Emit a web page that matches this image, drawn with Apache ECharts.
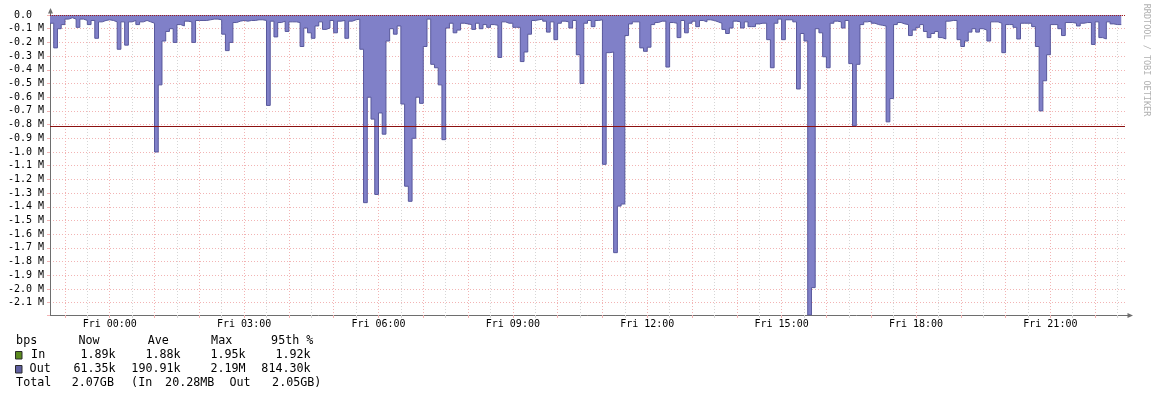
<!DOCTYPE html>
<html><head><meta charset="utf-8">
<script src="https://cdn.jsdelivr.net/npm/echarts@6/dist/echarts.min.js"></script>
<style>html,body{margin:0;padding:0;background:#fff}#c{width:1156px;height:397px}</style>
</head><body><div id="c"></div>
<script>
// time of first sample, minutes relative to Fri 00:00 (Thu 22:40)
const startMinute = -80;
const stepMinutes = 5;
// Out traffic, magnitude in kbit/s, one value per 5 minutes (drawn downward)
const outKbps = [
  60,240,100,70,30,20,30,90,30,40,70,40,
  170,50,40,35,40,50,250,50,220,50,40,70,
  50,40,50,60,1000,510,190,120,100,200,70,80,
  45,50,200,40,40,40,35,30,30,35,140,260,
  200,55,45,40,45,40,40,35,35,40,660,45,
  160,55,45,120,50,50,55,230,95,130,170,80,
  50,105,95,40,130,45,40,170,45,35,30,250,
  1370,600,760,1310,715,870,190,100,140,80,650,1250,
  1360,900,600,645,230,30,360,385,510,910,95,60,
  130,110,60,65,70,105,60,100,70,90,70,75,
  310,50,60,60,90,90,340,270,140,40,35,30,
  45,125,50,180,60,45,50,95,40,290,500,60,
  40,85,40,35,1090,275,270,1735,1395,1380,150,65,
  50,50,240,265,235,70,55,45,45,380,55,60,
  165,40,130,60,45,85,40,50,35,40,50,60,
  105,135,95,45,50,95,50,85,85,65,60,60,
  180,385,60,30,180,35,35,50,540,135,190,2190,
  1990,100,130,305,385,60,45,50,95,40,355,810,
  360,70,50,45,60,70,75,80,780,610,70,55,
  65,70,150,110,90,70,120,165,135,120,165,175,
  45,40,40,180,230,190,125,100,125,100,110,190,
  50,50,60,275,70,70,90,175,60,60,60,85,
  230,700,480,290,70,70,100,150,55,55,60,80,
  60,55,55,215,50,165,175,50,65,70,70,null
];
const pct95Kbps = 814.30;
// axis ticks (minutes from Fri 00:00)
const hourTicks = [-60,0,60,120,180,240,300,360,420,480,540,600,660,720,780,840,900,960,1020,1080,1140,1200,1260,1320];
const halfHourTicks = [-30,30,90,150,210,270,330,390,450,510,570,630,690,750,810,870,930,990,1050,1110,1170,1230,1290,1350];
const labelTicks = [0,180,360,540,720,900,1080,1260];
const dayName = 'Fri';
// legend table
const legendHeader = ['bps','Now','Ave','Max','95th %'];
const inStats = ['1.89k','1.88k','1.95k','1.92k'];
const outStats = ['61.35k','190.91k','2.19M','814.30k'];
const totalRow = ['Total','2.07GB','(In','20.28MB','Out','2.05GB)'];
const watermark = 'RRDTOOL / TOBI OETIKER';

const FONT = '"DejaVu Sans Mono", monospace';
const LEG = 11.7;
const pink = '#f2b4b4', grey = '#d6d6d6', axisCol = '#6e6e6e';
const chart = echarts.init(document.getElementById('c'), null, {renderer:'canvas'});

function txt(x, y, text, align, opts) {
  opts = opts || {};
  return {type:'text', x:x, y:y, silent:true, rotation: opts.rotation || 0,
    style:{text:text, font:(opts.size||LEG)+'px '+FONT, fill:opts.fill||'#000',
      align:align, textAlign:align, verticalAlign:'middle', textVerticalAlign:'middle'}};
}
const graphics = [];
const colsL = [16.1, 78.4, 147.7, 211.1, 271.1];
legendHeader.forEach((t,i)=>graphics.push(txt(colsL[i], 341, t, 'left')));
const colsR = [115.6, 180.6, 245.6, 310.6];
graphics.push({type:'rect', shape:{x:15.5,y:351.5,width:6.5,height:7.5}, style:{fill:'#5b8a1e', stroke:'#2a2a2a', lineWidth:1}});
graphics.push(txt(31.1, 355, 'In', 'left'));
inStats.forEach((t,i)=>graphics.push(txt(colsR[i], 355, t, 'right')));
graphics.push({type:'rect', shape:{x:15.5,y:365.5,width:6.5,height:7.5}, style:{fill:'#6060a0', stroke:'#2a2a2a', lineWidth:1}});
graphics.push(txt(29.6, 369, 'Out', 'left'));
outStats.forEach((t,i)=>graphics.push(txt(colsR[i], 369, t, 'right')));
const totL = [16.1, 71.7, 131.1, 165.1, 229.4, 272.1];
totalRow.forEach((t,i)=>graphics.push(txt(totL[i], 382.7, t, 'left')));
graphics.push(txt(1146.7, 60, watermark, 'center', {rotation:-Math.PI/2, size:8.5, fill:'#b0b0b0'}));
// axis arrows
graphics.push({type:'line', shape:{x1:50.5,y1:15,x2:50.5,y2:11}, style:{stroke:axisCol, lineWidth:1}});
graphics.push({type:'polygon', shape:{points:[[48,13.5],[50.5,8],[53,13.5]]}, style:{fill:axisCol}});
graphics.push({type:'line', shape:{x1:1125,y1:315.5,x2:1129,y2:315.5}, style:{stroke:axisCol, lineWidth:1}});
graphics.push({type:'polygon', shape:{points:[[1127.5,313],[1133,315.5],[1127.5,318]]}, style:{fill:axisCol}});

const pad = n => (n<10?'0':'')+n;

chart.setOption({
  animation:false,
  backgroundColor:'#ffffff',
  grid:{left:50, top:15, width:1075, height:300, containLabel:false},
  xAxis:[{
    type:'value', min:startMinute, max:startMinute+288*stepMinutes,
    axisLine:{show:true, onZero:false, lineStyle:{color:axisCol, width:1}},
    axisTick:{show:true, length:3, customValues:hourTicks, lineStyle:{color:pink}},
    axisLabel:{show:true, customValues:labelTicks, margin:4, color:'#000', fontFamily:FONT, fontSize:10,
      formatter:v=>dayName+' '+pad(Math.round(v/60))+':00'},
    splitLine:{show:true, lineStyle:{color:pink, width:1, type:[1,2]}}
  },{
    type:'value', min:startMinute, max:startMinute+288*stepMinutes, position:'bottom',
    axisLine:{show:false, onZero:false},
    axisTick:{show:true, length:3, customValues:halfHourTicks, lineStyle:{color:grey}},
    axisLabel:{show:false},
    splitLine:{show:true, lineStyle:{color:grey, width:1, type:[1,2]}}
  }],
  yAxis:{
    type:'value', inverse:true, min:0, max:2190, interval:100,
    axisLine:{show:true, onZero:false, lineStyle:{color:axisCol, width:1}},
    axisTick:{show:true, length:3, lineStyle:{color:pink}},
    axisLabel:{margin:6, color:'#000', fontFamily:FONT, fontSize:10,
      formatter:v=> v===0 ? '0.0  ' : (v%100!==0 ? '' : '-'+(v/1000).toFixed(1)+' M')},
    splitLine:{show:true, lineStyle:{color:pink, width:1, type:[1,2]}}
  },
  series:[{
    type:'line', name:'Out', xAxisIndex:0, step:'end', symbol:'none', connectNulls:false,
    data: outKbps.map((v,i)=>[startMinute+stepMinutes*i, v]),
    lineStyle:{color:'#58589c', width:1},
    areaStyle:{color:'#8080c8', opacity:1},
    z:2,
    markLine:{silent:true, symbol:'none', label:{show:false}, animation:false,
      data:[
        {yAxis:pct95Kbps, lineStyle:{color:'#8b1010', width:1, type:'solid'}},
        {yAxis:0, lineStyle:{color:'#a02020', width:1, type:[1,1]}}
      ]}
  }],
  graphic: graphics
});
</script></body></html>
